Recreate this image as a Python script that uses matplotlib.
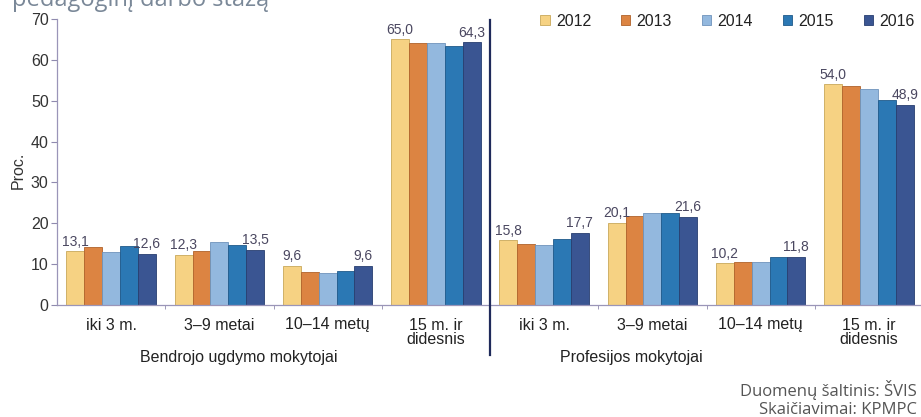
import numpy as np
import matplotlib.pyplot as plt
from matplotlib.patches import Patch

# data
categories = ["iki 3 m.", "3–9 metai", "10–14 metų", "15 m. ir\ndidesnis",
              "iki 3 m.", "3–9 metai", "10–14 metų", "15 m. ir\ndidesnis"]
years = ["2012", "2013", "2014", "2015", "2016"]
v2012 = [13.1, 12.3, 9.6, 65.0, 15.8, 20.1, 10.2, 54.0]
v2013 = [14.3, 13.3, 8.1, 64.1, 14.9, 21.7, 10.6, 53.6]
v2014 = [12.9, 15.5, 7.8, 64.1, 14.6, 22.4, 10.6, 52.9]
v2015 = [14.4, 14.8, 8.2, 63.3, 16.1, 22.5, 11.7, 50.1]
v2016 = [12.6, 13.5, 9.6, 64.3, 17.7, 21.6, 11.8, 48.9]
series = [v2012, v2013, v2014, v2015, v2016]
colors = ["#f6d283", "#dc8442", "#93b8de", "#2b78b4", "#3a5592"]
edges = ["#c8a85a", "#b0622a", "#6f93bb", "#1f5a8a", "#283e70"]
groups = ["Bendrojo ugdymo mokytojai", "Profesijos mokytojai"]

plt.rcParams["font.family"] = ["Liberation Sans", "DejaVu Sans"]
W, H = 921, 417
fig = plt.figure(figsize=(W / 100, H / 100), dpi=100)
ax = fig.add_axes([57 / W, 112 / H, 866 / W, 286 / H])

x = np.arange(len(categories)) + 0.5
bw = 0.165
for i, vals in enumerate(series):
    pos = x + (i - 2) * bw
    ax.bar(pos, vals, bw, color=colors[i], edgecolor=edges[i], linewidth=0.6,
           label=years[i], zorder=2)
    if i in (0, 4):
        for px, v in zip(pos, vals):
            ax.annotate(f"{v:.1f}".replace(".", ","), (px, v), xytext=(0, 2),
                        textcoords="offset points", ha="center", va="bottom",
                        fontsize=10, color="#4a4760")

ax.set_xlim(0, 8)
ax.set_ylim(0, 70)
ax.set_yticks(range(0, 71, 10))
ax.set_xticks(x)
ax.set_xticklabels(categories, fontsize=11.5, color="#222222", linespacing=0.95)
ax.set_xticks(range(1, 8), minor=True)
ax.tick_params(axis="x", which="major", length=0, pad=9)
ax.tick_params(axis="x", which="minor", length=3, color="#8f8aae")
ax.tick_params(axis="y", length=4, color="#8f8aae", labelsize=11.5,
               labelcolor="#333333", pad=2)
for s in ["top", "right"]:
    ax.spines[s].set_visible(False)
for s in ["left", "bottom"]:
    ax.spines[s].set_color("#9a95b8")
    ax.spines[s].set_linewidth(0.9)

# divider between the two teacher groups
ax.plot([4, 4], [-0.175, 0.995], color="#1f2a5a", lw=1.6,
        transform=ax.get_xaxis_transform(), clip_on=False, zorder=3)

ax.text(1.68, -0.185, groups[0], transform=ax.get_xaxis_transform(),
        ha="center", va="center", fontsize=11.5, color="#222222")
ax.text(5.31, -0.185, groups[1], transform=ax.get_xaxis_transform(),
        ha="center", va="center", fontsize=11.5, color="#222222")

fig.text(18 / W, 1 - 170 / H, "Proc.", rotation=90, ha="center", va="center",
         fontsize=11.5, color="#333333")

handles = [Patch(facecolor=c, edgecolor=e, linewidth=0.6) for c, e in zip(colors, edges)]
fig.legend(handles, years, loc="center left", bbox_to_anchor=(540 / W, 1 - 21 / H),
           ncol=5, frameon=False, fontsize=11.5, handlelength=0.6, handleheight=0.6,
           handletextpad=0.4, columnspacing=1.85, borderpad=0, borderaxespad=0,
           labelcolor="#222222")

# heading cut at the top as in the scan, source note bottom right
fig.text(12 / W, 1 - 6 / H, "pedagoginį darbo stažą", fontsize=17, color="#7a8898",
         family="Open Sans", ha="left", va="baseline")
fig.text(917 / W, 1 - 390 / H, "Duomenų šaltinis: ŠVIS", fontsize=12, color="#555555",
         family="Open Sans", ha="right", va="center")
fig.text(917 / W, 1 - 410 / H, "Skaičiavimai: KPMPC", fontsize=12, color="#555555",
         family="Open Sans", ha="right", va="center")

fig.savefig("out.png", dpi=100)
